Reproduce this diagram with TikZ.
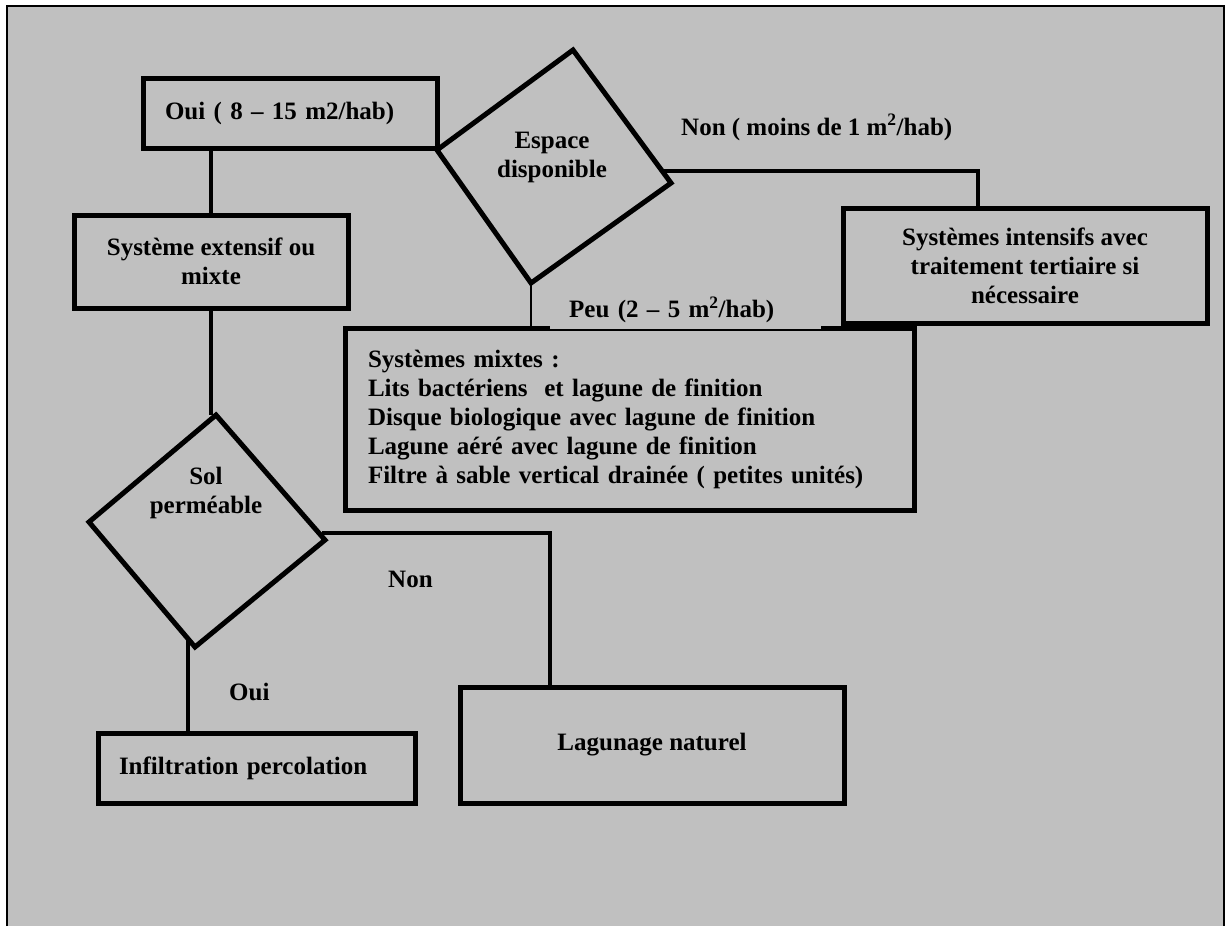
\documentclass[tikz,border=0pt]{standalone}
\usepackage{fontspec}
\setmainfont{Liberation Serif}
\definecolor{fond}{RGB}{192,192,192}
\newcommand\police{\fontsize{25}{29}\selectfont\bfseries}

\begin{document}
\begin{tikzpicture}[x=1pt, y=-1pt,
		boite/.style={draw, line width=5pt, inner sep=0pt, font=\police},
		losange/.style={draw, line width=5pt, line join=miter},
		liaison/.style={line width=4.5pt},
		etiquette/.style={inner sep=0pt, anchor=base west, font=\police}]
			\useasboundingbox (0,0) rectangle (1228,926);

			% cadre
			\fill [fond] (7,6) rectangle (1224,926);
			\draw [line width=2pt] (7,926) -- (7,6) -- (1224,6) -- (1224,926);

			% boites
			\node [boite, minimum width=294pt, minimum height=70pt, text width=250pt, align=left] (oui) at (290,113) {Oui ( 8 – 15 m2/hab)};
			\node [boite, minimum width=274pt, minimum height=93pt, align=center] (sys) at (211,261.5) {Système extensif ou\\mixte};
			\node [boite, minimum width=364pt, minimum height=115pt, align=center] (intens) at (1025,265.5) {Systèmes intensifs avec\\traitement tertiaire si\\nécessaire};
			\node [boite, minimum width=569pt, minimum height=182pt, text width=523pt, align=left] (mixtes) at (629.5,419) {Systèmes mixtes :\\Lits bactériens \ et lagune de finition\\Disque biologique avec lagune de finition\\Lagune aéré avec lagune de finition\\Filtre à sable vertical drainée ( petites unités)};
			\node [boite, minimum width=317pt, minimum height=70pt, text width=275pt, align=left] (infil) at (256.5,768) {Infiltration percolation};
			\node [boite, minimum width=384pt, minimum height=116pt] (lagun) at (652,745) {Lagunage naturel};

			% losanges
			\coordinate (espH) at (573,50);
			\coordinate (espD) at (671,183);
			\coordinate (espB) at (531,283);
			\coordinate (espG) at (437,150);
			\draw [losange] (espH) -- (espD) -- (espB) -- (espG) -- cycle;
			\node [font=\police, align=center] (espace) at (552,157) {Espace\\disponible};

			\coordinate (solH) at (216,415);
			\coordinate (solD) at (325,540);
			\coordinate (solB) at (195,647);
			\coordinate (solG) at (89,522);
			\draw [losange] (solH) -- (solD) -- (solB) -- (solG) -- cycle;
			\node [font=\police, align=center] (sol) at (206,493) {Sol\\perméable};

			% liaisons
			\draw [liaison] (oui.south -| sys.north) -- (sys.north);
			\draw [liaison] (sys.south) -- (sys.south |- solH);
			\coordinate (espE) at (662,171);
			\coordinate (coudeNon) at (978,171);
			\draw [liaison] (espE) -- (coudeNon) -- (coudeNon |- intens.north);
			\draw [line width=1.5pt] (espB) -- (espB |- mixtes.north);
			\coordinate (solE) at (322,533);
			\coordinate (coudeSol) at (550,533);
			\draw [liaison] (solE) -- (coudeSol) -- (coudeSol |- lagun.north);
			\coordinate (solS) at (188,640);
			\draw [liaison] (solS) -- (solS |- infil.north);

			% etiquettes
			\node [etiquette] (non) at (681,135) {Non ( moins de 1 m\textsuperscript{2}/hab)};
			\node [etiquette, anchor=south west, fill=fond, inner xsep=19pt, inner ysep=6pt, text width=233pt, align=left] (peu) at (550,329) {Peu (2 – 5 m\textsuperscript{2}/hab)};
			\node [etiquette] (nonsol) at (388,587) {Non};
			\node [etiquette] (ouisol) at (229,700) {Oui};
		\end{tikzpicture}
\end{document}
